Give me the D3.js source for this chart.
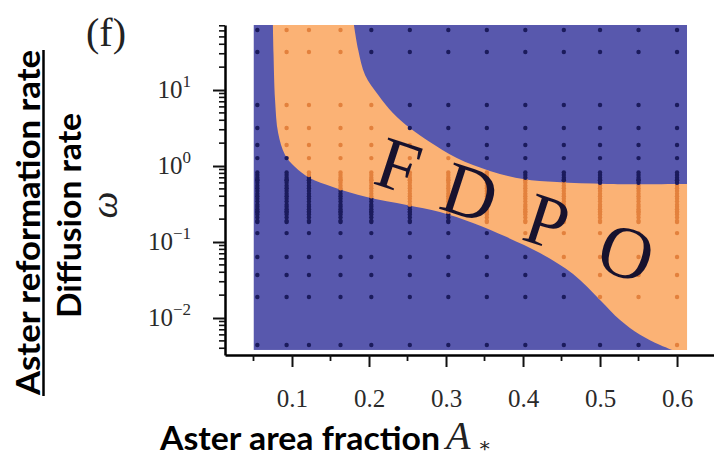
<!DOCTYPE html>
<html><head><meta charset="utf-8">
<script src="https://cdn.jsdelivr.net/npm/d3@7"></script>
<style>
html,body{margin:0;padding:0;background:#fff;}
svg{display:block;}
</style></head><body>
<svg id="chart" width="714" height="458"></svg>
<script>
// ---------------- data ----------------
const panelLabel = "(f)";
const xTickValues = [0.1, 0.2, 0.3, 0.4, 0.5, 0.6];
const xTickLabels = ["0.1", "0.2", "0.3", "0.4", "0.5", "0.6"];
const xMinorTicks = [0.05, 0.15, 0.25, 0.35, 0.45, 0.55];
const yTickValues = [0.01, 0.1, 1, 10];
const yTickExponents = ["\u22122", "\u22121", "0", "1"];

// simulated parameter grid (columns of A*, rows of omega)
const sampleA = [0.055, 0.093, 0.122, 0.163, 0.203, 0.253, 0.303, 0.353, 0.403, 0.453, 0.5, 0.55, 0.6];
const sampleOmega = [61.5, 31.6, 6.36, 3.16, 1.89, 1.27, 0.655, 0.248, 0.183, 0.131, 0.0635, 0.0368, 0.0189, 0.00442];
const denseOmega = [0.19, 0.21, 0.23, 0.25, 0.27, 0.29, 0.31, 0.34, 0.37, 0.40, 0.43, 0.47, 0.51, 0.55, 0.60, 0.65, 0.70, 0.76, 0.82];

// FDPO phase region boundaries
const lowerBoundaryA = [0.075, 0.076, 0.078, 0.082, 0.091, 0.104, 0.123, 0.153, 0.197, 0.249, 0.292, 0.335, 0.379, 0.422, 0.465, 0.500, 0.526, 0.552, 0.578, 0.606];
const lowerBoundaryOmega = [90, 30, 7.4, 2.72, 1.40, 0.97, 0.695, 0.53, 0.39, 0.307, 0.248, 0.178, 0.116, 0.0716, 0.038, 0.0173, 0.0094, 0.006, 0.0044, 0.0034];
const upperBoundaryA = [0.179, 0.186, 0.195, 0.212, 0.231, 0.253, 0.279, 0.314, 0.357, 0.400, 0.444, 0.509, 0.62];
const upperBoundaryOmega = [90, 33.6, 15.7, 8.6, 4.98, 3.16, 2.07, 1.27, 0.86, 0.675, 0.615, 0.58, 0.58];

const phaseLetters = ["F", "D", "P", "O"];
const phaseLetterA = [0.238, 0.331, 0.431, 0.534];
const phaseLetterOmega = [1.0, 0.44, 0.183, 0.0716];

const regionA = [0.05, 0.613];
const regionOmega = [0.0038, 71.7];

// ---------------- chart ----------------
const blue = "#5858ad", orange = "#fbb275", navyDot = "#1b1b5c", orangeDot = "#e3813d";
const svg = d3.select("#chart");
const x = d3.scaleLinear().domain([0.013, 0.648]).range([225, 714]);
const y = d3.scaleLog().domain([0.00326, 71.7]).range([355, 25]);

svg.append("defs").append("clipPath").attr("id", "plotClip").append("rect")
  .attr("x", x(regionA[0])).attr("y", y(regionOmega[1]))
  .attr("width", x(regionA[1]) - x(regionA[0]))
  .attr("height", y(regionOmega[0]) - y(regionOmega[1]));

const plot = svg.append("g").attr("clip-path", "url(#plotClip)");
plot.append("rect")
  .attr("x", x(regionA[0])).attr("y", y(regionOmega[1]))
  .attr("width", x(regionA[1]) - x(regionA[0]))
  .attr("height", y(regionOmega[0]) - y(regionOmega[1]))
  .attr("fill", blue);

const lineGen = d3.line().x(d => x(d[0])).y(d => y(d[1])).curve(d3.curveCatmullRom.alpha(0.5));
const lowerPts = lowerBoundaryA.map((a, i) => [a, lowerBoundaryOmega[i]]);
const upperPts = upperBoundaryA.map((a, i) => [a, upperBoundaryOmega[i]]).reverse();
const corner = [upperBoundaryA[upperBoundaryA.length - 1], lowerBoundaryOmega[lowerBoundaryOmega.length - 1]];
const regionD = lineGen(lowerPts) + "L" + x(corner[0]) + "," + y(corner[1]) +
  lineGen(upperPts).replace(/^M/, "L") + "Z";
const regionPath = plot.append("path").attr("d", regionD).attr("fill", orange);

const polyPx = lowerPts.map(p => [x(p[0]), y(p[1])])
  .concat([[x(corner[0]), y(corner[1])]])
  .concat(upperPts.map(p => [x(p[0]), y(p[1])]));
function inside(px, py) {
  const node = regionPath.node();
  try {
    if (node.isPointInFill) return node.isPointInFill(new DOMPoint(px, py));
  } catch (e) {}
  return d3.polygonContains(polyPx, [px, py]);
}

const dots = [];
sampleA.forEach(a => {
  sampleOmega.concat(denseOmega).forEach(w => dots.push([a, w]));
});
plot.append("g").selectAll("circle").data(dots).join("circle")
  .attr("cx", d => x(d[0])).attr("cy", d => y(d[1])).attr("r", 2.2)
  .attr("fill", d => inside(x(d[0]), y(d[1])) ? orangeDot : navyDot);

// phase letters
svg.append("g").selectAll("text").data(phaseLetters).join("text")
  .attr("transform", (d, i) => `translate(${x(phaseLetterA[i])},${y(phaseLetterOmega[i])}) rotate(18)`)
  .attr("text-anchor", "middle").attr("dy", "0.33em")
  .style("font-family", "'Liberation Serif', 'DejaVu Serif', serif")
  .style("font-size", "74px").attr("fill", "#17122e")
  .text(d => d);

// axes
const xAxis = svg.append("g").attr("transform", "translate(0,355)")
  .call(d3.axisBottom(x).tickValues(xTickValues).tickFormat((d, i) => xTickLabels[i]).tickSize(12).tickSizeOuter(0));
xAxis.select(".domain").attr("stroke", "#000").attr("stroke-width", 2.5);
xAxis.selectAll(".tick line").attr("stroke", "#111").attr("stroke-width", 2);
xAxis.selectAll(".tick text").attr("y", 52).attr("dy", 0)
  .style("font-family", "'Liberation Serif', serif").style("font-size", "25px").attr("fill", "#2a2a2a");
xAxis.selectAll(".minor").data(xMinorTicks).join("line").attr("class", "minor")
  .attr("x1", d => x(d)).attr("x2", d => x(d)).attr("y1", 0).attr("y2", 6)
  .attr("stroke", "#111").attr("stroke-width", 1.8);

const yAxis = svg.append("g").attr("transform", "translate(225,0)")
  .call(d3.axisLeft(y).tickValues(yTickValues).tickFormat("").tickSize(12).tickSizeOuter(0));
yAxis.select(".domain").attr("stroke", "#000").attr("stroke-width", 2.5);
yAxis.selectAll(".tick line").attr("stroke", "#111").attr("stroke-width", 2);
const yMinor = y.ticks().filter(v => !yTickValues.some(t => Math.abs(t - v) / t < 1e-6));
yAxis.selectAll(".minor").data(yMinor).join("line").attr("class", "minor")
  .attr("x1", -6).attr("x2", 0).attr("y1", d => y(d)).attr("y2", d => y(d))
  .attr("stroke", "#111").attr("stroke-width", 1.6);

const yLab = svg.append("g").selectAll("text").data(yTickValues).join("text")
  .attr("x", 191).attr("y", d => y(d) + 8).attr("text-anchor", "end")
  .style("font-family", "'Liberation Serif', serif").attr("fill", "#2a2a2a");
yLab.append("tspan").style("font-size", "25px").text("10");
yLab.append("tspan").style("font-size", "17px").attr("dy", -11).text((d, i) => yTickExponents[i]);

// panel label
svg.append("text").attr("x", 106).attr("y", 46).attr("text-anchor", "middle")
  .style("font-family", "'Liberation Serif', serif").style("font-size", "40px").attr("fill", "#222")
  .text(panelLabel);

// y labels
const sansBold = "Lato, 'Open Sans', 'Liberation Sans', sans-serif";
svg.append("text").attr("transform", "translate(40,222.5) rotate(-90)").attr("text-anchor", "middle")
  .style("font-family", sansBold).style("font-weight", "bold").style("font-size", "32px")
  .attr("textLength", 345).attr("lengthAdjust", "spacingAndGlyphs").attr("fill", "#000")
  .text("Aster reformation rate");
svg.append("line").attr("x1", 43.5).attr("x2", 43.5).attr("y1", 50).attr("y2", 396)
  .attr("stroke", "#000").attr("stroke-width", 2.5);
svg.append("text").attr("transform", "translate(81,215.5) rotate(-90)").attr("text-anchor", "middle")
  .style("font-family", sansBold).style("font-weight", "bold").style("font-size", "32px")
  .attr("textLength", 205).attr("lengthAdjust", "spacingAndGlyphs").attr("fill", "#000")
  .text("Diffusion rate");
svg.append("text").attr("transform", "translate(117,205) rotate(-90)").attr("text-anchor", "middle")
  .style("font-family", "'Liberation Serif', serif").style("font-style", "italic").style("font-size", "38px")
  .attr("fill", "#222").text("\u03c9");

// x label
svg.append("text").attr("x", 160).attr("y", 450)
  .style("font-family", sansBold).style("font-weight", "bold").style("font-size", "32px")
  .attr("textLength", 280).attr("lengthAdjust", "spacingAndGlyphs").attr("fill", "#000")
  .text("Aster area fraction");
svg.append("text").attr("x", 446).attr("y", 449)
  .style("font-family", "'Liberation Serif', serif").style("font-style", "italic").style("font-size", "40px")
  .attr("fill", "#222").text("A");
svg.append("text").attr("x", 478).attr("y", 452)
  .style("font-family", "'DejaVu Serif', serif").style("font-size", "20px")
  .attr("fill", "#222").text("\u2217");
</script>
</body></html>
